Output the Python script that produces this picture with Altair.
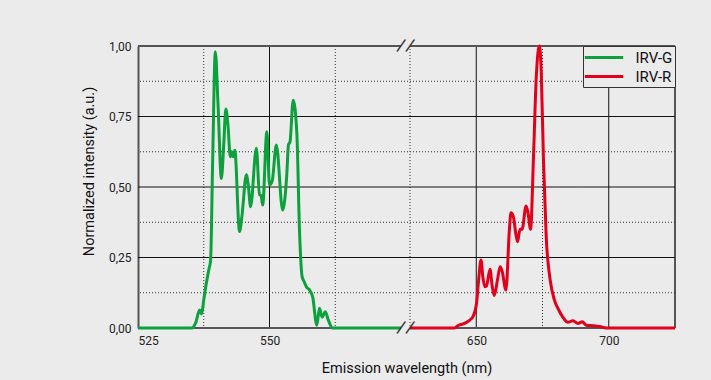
import altair as alt
import pandas as pd

# ---------------- data ----------------
SERIES = ["IRV-G", "IRV-R"]
COLORS = ["#0ca13c", "#e2001a"]

GREEN_WL = [525, 535.2, 536.0, 536.7, 537.1, 537.5, 538.0, 538.5, 538.8, 539.2,
            539.7, 540.2, 540.85, 541.3, 541.7, 542.1, 542.55, 542.8, 543.1, 543.4,
            544.3, 544.75, 545.6, 546.0, 546.4, 547.5, 548.1, 548.4, 548.7, 549.5,
            550.0, 550.5, 551.3, 552.5, 553.3, 553.6, 553.9, 554.5, 555.2, 555.7,
            556.2, 556.6, 557.0, 557.6, 558.2, 559.0, 559.5, 560.0, 560.6, 561.2,
            562.0, 575]
GREEN_VAL = [0, 0, 0.02, 0.064, 0.05, 0.1, 0.16, 0.21, 0.24, 0.6,
             0.98, 0.8, 0.53, 0.65, 0.777, 0.72, 0.607, 0.625, 0.607, 0.63,
             0.342, 0.395, 0.543, 0.5, 0.43, 0.637, 0.472, 0.47, 0.436, 0.696,
             0.507, 0.52, 0.649, 0.418, 0.548, 0.649, 0.66, 0.808, 0.69, 0.348,
             0.182, 0.164, 0.146, 0.135, 0.111, 0.01, 0.07, 0.038, 0.058, 0.027,
             0, 0]

RED_WL = [625, 641.7, 643.0, 644.8, 646.0, 647.3, 648.9, 650.1, 650.9, 651.8,
          652.5, 653.3, 653.9, 655.2, 656.0, 656.8, 658.0, 659.0, 659.8, 661.2,
          662.5, 663.1, 664.0, 665.0, 665.6, 666.5, 667.3, 668.8, 669.5, 670.5,
          671.6, 672.6, 673.5, 673.9, 674.5, 675.4, 676.4, 677.9, 679.5, 680.8,
          682.7, 684.6, 686.5, 688.4, 690.0, 691.5, 694.0, 696.6, 699.1, 725]
RED_VAL = [0, 0, 0.008, 0.014, 0.018, 0.026, 0.043, 0.087, 0.17, 0.241,
           0.18, 0.146, 0.15, 0.208, 0.15, 0.115, 0.17, 0.217, 0.2, 0.135,
           0.348, 0.409, 0.395, 0.33, 0.306, 0.35, 0.35, 0.433, 0.41, 0.35,
           0.607, 0.879, 0.99, 1.0, 0.915, 0.584, 0.324, 0.17, 0.099, 0.07,
           0.038, 0.02, 0.026, 0.016, 0.022, 0.01, 0.008, 0.005, 0, 0]

# broken x axis: two segments of the wavelength range
SEG_START = [525, 625]
SEG_END = [575, 725]
X_TICKS = [525, 550, 650, 700]
X_GRID_SOLID = [550, 650, 700]
X_GRID_DOT = [537.5, 562.5, 625, 675]
X_FRAME_RIGHT = [725]
Y_TICKS = [0, 0.25, 0.5, 0.75, 1.0]
Y_GRID_SOLID = [0.25, 0.5, 0.75]
Y_GRID_DOT = [0.125, 0.375, 0.625, 0.875]
Y_FRAME = [0, 1]

X_TITLE = "Emission wavelength (nm)"
Y_TITLE = "Normalized intensity (a.u.)"

FONT = "Roboto"
BG = "#ebebeb"
FRAME = "#555555"

W = 537
H = 282

spectra = pd.concat([
    pd.DataFrame({"wl": GREEN_WL, "val": GREEN_VAL, "series": SERIES[0]}),
    pd.DataFrame({"wl": RED_WL, "val": RED_VAL, "series": SERIES[1]}),
], ignore_index=True)

# piecewise x scale: the 575-625 gap is squeezed into a few pixels
xscale = alt.Scale(domain=[525, 575, 625, 725], range=[0, 263, 272, W],
                   nice=False, zero=False)
yscale = alt.Scale(domain=[0, 1], nice=False, zero=False)
label_expr = "replace(format(datum.value, '.2f'), '.', ',')"


def vrules(values, dotted, color=None, width=1):
    return alt.Chart(pd.DataFrame({"g": values})).mark_rule(
        color=color or ("#333333" if dotted else "#111111"),
        strokeWidth=width,
        strokeDash=[1, 2] if dotted else [1, 0],
    ).encode(x=alt.X("g:Q", scale=xscale))


def hrules(values, dotted):
    return alt.Chart(pd.DataFrame({"g": values})).mark_rule(
        color="#333333" if dotted else "#111111",
        strokeWidth=1,
        strokeDash=[1, 2] if dotted else [1, 0],
    ).encode(y=alt.Y("g:Q", scale=yscale))


frame_df = pd.DataFrame([
    {"x": s, "x2": e, "y": yv}
    for s, e in zip(SEG_START, SEG_END) for yv in Y_FRAME
])
frame = alt.Chart(frame_df).mark_rule(color=FRAME, strokeWidth=2).encode(
    x=alt.X("x:Q", scale=xscale), x2="x2:Q", y=alt.Y("y:Q", scale=yscale)
)

break_df = pd.DataFrame([
    {"x": xv, "y": yv} for xv in [SEG_END[0], SEG_START[1]] for yv in Y_FRAME
])
breaks = alt.Chart(break_df).mark_text(
    text="/", fontSize=17, font="DejaVu Sans", angle=18,
    color="#333333", align="center", baseline="middle",
).encode(x=alt.X("x:Q", scale=xscale), y=alt.Y("y:Q", scale=yscale))

lines = alt.Chart(spectra).mark_line(strokeWidth=3, interpolate="monotone").encode(
    x=alt.X("wl:Q", scale=xscale,
            axis=alt.Axis(values=X_TICKS, title=X_TITLE, grid=False, ticks=False,
                          domain=False, labelPadding=7, titleFontWeight="normal",
                          titleFontSize=14.5, titlePadding=15)),
    y=alt.Y("val:Q", scale=yscale,
            axis=alt.Axis(values=Y_TICKS, title=Y_TITLE, grid=False, ticks=False,
                          labelExpr=label_expr, labelPadding=7, domainColor=FRAME,
                          domainWidth=2, titleFontWeight="normal", titleFontSize=14.5,
                          titlePadding=12, titleY=125)),
    color=alt.Color("series:N", scale=alt.Scale(domain=SERIES, range=COLORS),
                    legend=alt.Legend(title=None, orient="top-right", offset=0,
                                      fillColor=BG, strokeColor="#333333",
                                      padding=2, rowPadding=1,
                                      symbolType="M-2.4,0H2.4", symbolSize=256,
                                      symbolStrokeWidth=3, symbolOffset=9.5,
                                      labelOffset=22, labelFontSize=15,
                                      labelBaseline="middle")),
)

chart = alt.layer(
    vrules(X_GRID_DOT, True),
    vrules(X_GRID_SOLID, False),
    vrules(X_FRAME_RIGHT, False, color=FRAME, width=2),
    hrules(Y_GRID_DOT, True),
    hrules(Y_GRID_SOLID, False),
    frame,
    lines,
    breaks,
).properties(
    width=W, height=H,
    background=BG,
    autosize=alt.AutoSizeParams(type="none"),
    padding={"left": 138, "top": 46, "right": 36, "bottom": 52},
).configure_view(stroke=None, fill=BG).configure_axis(
    labelFont=FONT, titleFont=FONT, labelFontSize=12, labelColor="#222222",
    titleColor="#111111",
).configure_legend(labelFont=FONT, labelColor="#111111")

chart.save("out.html", embed_options={"renderer": "svg", "actions": False})
